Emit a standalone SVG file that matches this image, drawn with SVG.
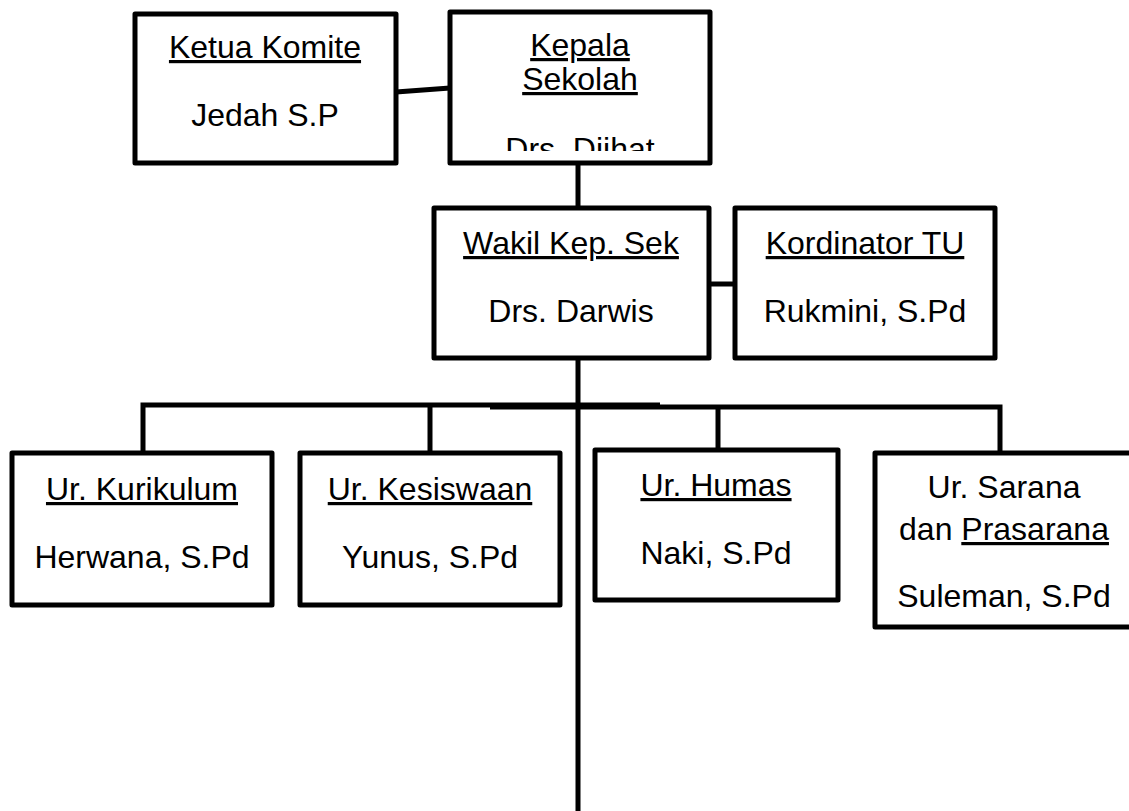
<svg xmlns="http://www.w3.org/2000/svg" width="1129" height="811" viewBox="0 0 1129 811">
<style>
.box{fill:#fff;stroke:#000;stroke-width:5;stroke-linejoin:round}
.ln{fill:none;stroke:#000;stroke-width:5}
text{font-family:"Liberation Sans",Arial,sans-serif;font-size:32px;fill:#000;text-anchor:middle}
.u{text-decoration:underline}
</style>
<rect width="1129" height="811" fill="#fff"/>
<defs><clipPath id="kc"><rect x="452" y="14" width="256" height="137"/></clipPath></defs>
<g id="connectors">
<path class="ln" d="M396 92 L450 88"/>
<path class="ln" d="M578 163 V208"/>
<path class="ln" d="M709 284 H735"/>
<path class="ln" d="M578 358 V811"/>
<path class="ln" d="M143 453 V405 H660"/>
<path class="ln" d="M490 407 H1000 V453"/>
<path class="ln" d="M430 405 V453"/>
<path class="ln" d="M718 407 V450"/>
</g>
<g id="ketua">
<rect class="box" x="135" y="14" width="261" height="149"/>
<text x="265" y="58" class="u">Ketua Komite</text>
<text x="265" y="126">Jedah S.P</text>
</g>
<g id="kepala">
<rect class="box" x="450" y="12" width="260" height="151"/>
<text x="580" y="56" class="u">Kepala</text>
<text x="580" y="90" class="u">Sekolah</text>
<text x="580" y="160" clip-path="url(#kc)">Drs. Dijhat</text>
</g>
<g id="wakil">
<rect class="box" x="434" y="208" width="275" height="150"/>
<text x="571" y="254" class="u">Wakil Kep. Sek</text>
<text x="571" y="322">Drs. Darwis</text>
</g>
<g id="kordinator">
<rect class="box" x="735" y="208" width="260" height="150"/>
<text x="865" y="254" class="u">Kordinator TU</text>
<text x="865" y="322">Rukmini, S.Pd</text>
</g>
<g id="kurikulum">
<rect class="box" x="12" y="453" width="260" height="152"/>
<text x="142" y="500" class="u">Ur. Kurikulum</text>
<text x="142" y="568">Herwana, S.Pd</text>
</g>
<g id="kesiswaan">
<rect class="box" x="300" y="453" width="260" height="152"/>
<text x="430" y="500" class="u">Ur. Kesiswaan</text>
<text x="430" y="568">Yunus, S.Pd</text>
</g>
<g id="humas">
<rect class="box" x="595" y="450" width="243" height="150"/>
<text x="716" y="496" class="u">Ur. Humas</text>
<text x="716" y="564">Naki, S.Pd</text>
</g>
<g id="sarana">
<rect class="box" x="875" y="453" width="260" height="174"/>
<text x="1004" y="498">Ur. Sarana</text>
<text x="1004" y="540">dan <tspan class="u">Prasarana</tspan></text>
<text x="1004" y="607">Suleman, S.Pd</text>
</g>
</svg>
